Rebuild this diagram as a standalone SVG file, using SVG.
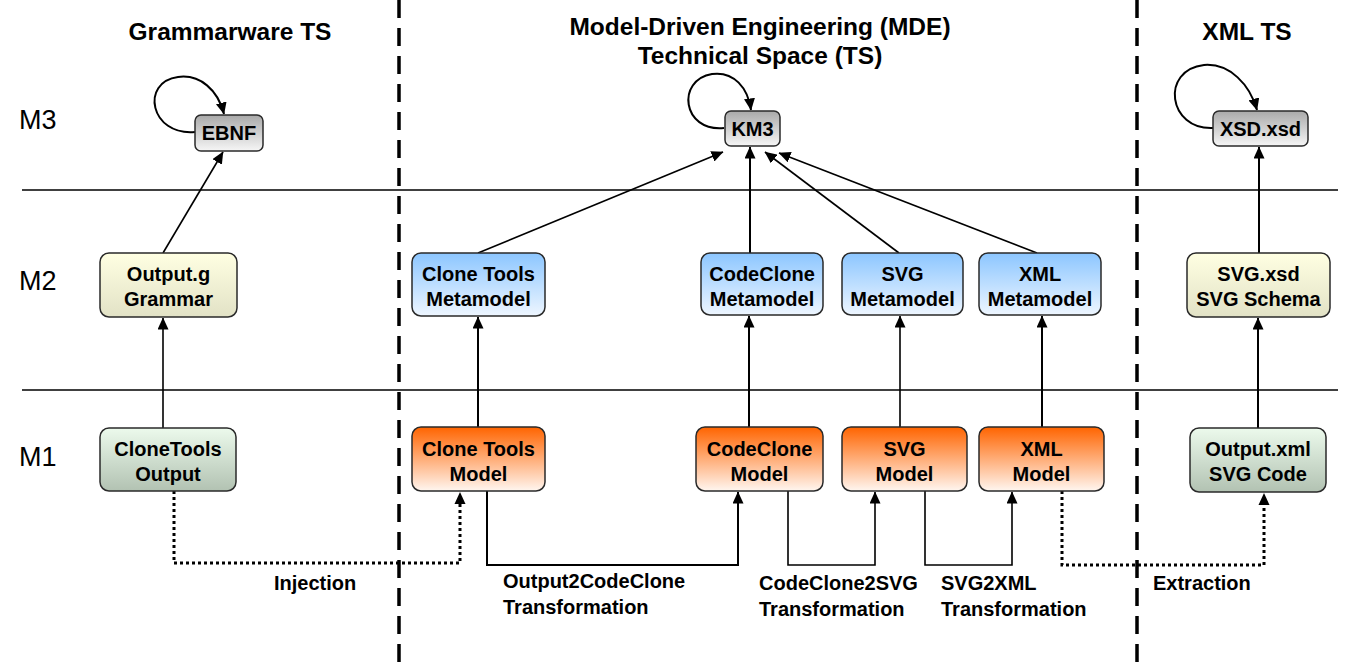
<svg xmlns="http://www.w3.org/2000/svg" width="1350" height="663" viewBox="0 0 1350 663">
<style>
.t{font-family:"Liberation Sans",Arial,sans-serif;font-weight:bold;fill:#000}
.title{font-size:24.5px}
.nt{font-size:20px;text-anchor:middle}
.lb{font-size:20px}
.lvl{font-family:"Liberation Sans",Arial,sans-serif;font-size:27px;fill:#000}
.box{stroke:#2a2a2a;stroke-width:1.5}
.c{fill:none;stroke:#000;stroke-width:1.6}
.c2{fill:none;stroke:#000;stroke-width:2}
.dot{fill:none;stroke:#000;stroke-width:3;stroke-dasharray:3 3}
.sep{stroke:#000;stroke-width:1.5}
.dash{stroke:#000;stroke-width:3.5;stroke-dasharray:18 10}
</style>
<defs>
<linearGradient id="gGray" x1="0" y1="0" x2="0" y2="1"><stop offset="0" stop-color="#a9a9a9"/><stop offset="1" stop-color="#f6f6f6"/></linearGradient>
<linearGradient id="gYel" x1="0" y1="0" x2="0" y2="1"><stop offset="0" stop-color="#ffffe2"/><stop offset="1" stop-color="#e2e2c6"/></linearGradient>
<linearGradient id="gBlue" x1="0" y1="0" x2="0" y2="1"><stop offset="0" stop-color="#8cc6ff"/><stop offset="1" stop-color="#eef6ff"/></linearGradient>
<linearGradient id="gOr" x1="0" y1="0" x2="0" y2="1"><stop offset="0" stop-color="#ff6400"/><stop offset="1" stop-color="#fff6f0"/></linearGradient>
<linearGradient id="gGr" x1="0" y1="0" x2="0" y2="1"><stop offset="0" stop-color="#ecfaec"/><stop offset="1" stop-color="#b2c2b2"/></linearGradient>
<marker id="ah" viewBox="0 0 12 11" refX="11.5" refY="5.5" markerWidth="12" markerHeight="11" markerUnits="userSpaceOnUse" orient="auto"><path d="M0,0 L12,5.5 L0,11 z" fill="#000"/></marker>
</defs>
<rect width="1350" height="663" fill="#fff"/>

<g id="titles">
<text class="t title" x="230" y="40" text-anchor="middle">Grammarware TS</text>
<text class="t title" x="760" y="35" text-anchor="middle">Model-Driven Engineering (MDE)</text>
<text class="t title" x="760" y="64" text-anchor="middle">Technical Space (TS)</text>
<text class="t title" x="1247" y="40" text-anchor="middle">XML TS</text>
</g>
<g id="levels">
<text class="lvl" x="19" y="129">M3</text>
<text class="lvl" x="19" y="290">M2</text>
<text class="lvl" x="19" y="466">M1</text>
</g>
<g id="separators">
<line class="sep" x1="22" y1="190" x2="1338" y2="190"/>
<line class="sep" x1="22" y1="390" x2="1338" y2="390"/>
<line class="dash" x1="399" y1="0" x2="399" y2="663"/>
<line class="dash" x1="1137" y1="0" x2="1137" y2="663"/>
</g>

<g id="connectors">
<path class="c2" d="M195,132 C150,136 140,82 178,77 C200,74 218,90 224,114" marker-end="url(#ah)"/>
<path class="c2" d="M724,128 C682,132 676,80 712,74 C734,71 748,88 751,110" marker-end="url(#ah)"/>
<path class="c2" d="M1213,128 C1168,130 1160,70 1204,65 C1230,63 1250,85 1257,110" marker-end="url(#ah)"/>
<line class="c" x1="163" y1="253" x2="223" y2="152" marker-end="url(#ah)"/>
<line class="c" x1="478" y1="253" x2="723" y2="152" marker-end="url(#ah)"/>
<line class="c2" x1="750" y1="253" x2="750" y2="147" marker-end="url(#ah)"/>
<line class="c" x1="899" y1="253" x2="765" y2="152" marker-end="url(#ah)"/>
<line class="c" x1="1037" y1="253" x2="779" y2="153" marker-end="url(#ah)"/>
<line class="c2" x1="1259" y1="253" x2="1259" y2="147" marker-end="url(#ah)"/>
<line class="c" x1="163" y1="428" x2="163" y2="318" marker-end="url(#ah)"/>
<line class="c2" x1="478" y1="427" x2="478" y2="317" marker-end="url(#ah)"/>
<line class="c2" x1="749" y1="427" x2="749" y2="316" marker-end="url(#ah)"/>
<line class="c" x1="900" y1="427" x2="900" y2="316" marker-end="url(#ah)"/>
<line class="c2" x1="1042" y1="427" x2="1042" y2="316" marker-end="url(#ah)"/>
<line class="c2" x1="1258" y1="428" x2="1258" y2="318" marker-end="url(#ah)"/>
<path class="c2" d="M487,491 V565 H738 V492" marker-end="url(#ah)"/>
<path class="c" d="M788,491 V565 H875 V492" marker-end="url(#ah)"/>
<path class="c" d="M925,491 V565 H1012 V492" marker-end="url(#ah)"/>
<path class="dot" d="M174,491 V563 H460 V502"/>
<path d="M454.5,504 L460,492 L465.5,504 z" fill="#000"/>
<path class="dot" d="M1062,491 V565 H1264 V503"/>
<path d="M1258.5,505 L1264,493 L1269.5,505 z" fill="#000"/>
</g>

<g id="labels">
<text class="t lb" x="274" y="590">Injection</text>
<text class="t lb" x="503" y="588">Output2CodeClone</text>
<text class="t lb" x="503" y="614">Transformation</text>
<text class="t lb" x="759" y="590">CodeClone2SVG</text>
<text class="t lb" x="759" y="616">Transformation</text>
<text class="t lb" x="941" y="590">SVG2XML</text>
<text class="t lb" x="941" y="616">Transformation</text>
<text class="t lb" x="1153" y="590">Extraction</text>
</g>

<g id="n-ebnf"><rect class="box" x="195" y="115" width="68" height="36" rx="6" fill="url(#gGray)"/><text class="t nt" x="229" y="140">EBNF</text></g>
<g id="n-km3"><rect class="box" x="725" y="111" width="55" height="35" rx="6" fill="url(#gGray)"/><text class="t nt" x="752.5" y="136">KM3</text></g>
<g id="n-xsd"><rect class="box" x="1213" y="111" width="95" height="35" rx="6" fill="url(#gGray)"/><text class="t nt" x="1260.5" y="136">XSD.xsd</text></g>

<g id="n-outputg"><rect class="box" x="100" y="253" width="137" height="64" rx="9" fill="url(#gYel)"/><text class="t nt" x="168.5" y="281">Output.g</text><text class="t nt" x="168.5" y="306">Grammar</text></g>
<g id="n-ctmm"><rect class="box" x="412" y="253" width="133" height="63" rx="9" fill="url(#gBlue)"/><text class="t nt" x="478.5" y="281">Clone Tools</text><text class="t nt" x="478.5" y="306">Metamodel</text></g>
<g id="n-ccmm"><rect class="box" x="701" y="253" width="122" height="62" rx="9" fill="url(#gBlue)"/><text class="t nt" x="762" y="281">CodeClone</text><text class="t nt" x="762" y="306">Metamodel</text></g>
<g id="n-svgmm"><rect class="box" x="842" y="253" width="121" height="62" rx="9" fill="url(#gBlue)"/><text class="t nt" x="902.5" y="281">SVG</text><text class="t nt" x="902.5" y="306">Metamodel</text></g>
<g id="n-xmlmm"><rect class="box" x="979" y="253" width="122" height="62" rx="9" fill="url(#gBlue)"/><text class="t nt" x="1040" y="281">XML</text><text class="t nt" x="1040" y="306">Metamodel</text></g>
<g id="n-svgxsd"><rect class="box" x="1187" y="253" width="143" height="64" rx="9" fill="url(#gYel)"/><text class="t nt" x="1258.5" y="281">SVG.xsd</text><text class="t nt" x="1258.5" y="306">SVG Schema</text></g>

<g id="n-ctout"><rect class="box" x="100" y="428" width="136" height="63" rx="9" fill="url(#gGr)"/><text class="t nt" x="168" y="456">CloneTools</text><text class="t nt" x="168" y="481">Output</text></g>
<g id="n-ctmodel"><rect class="box" x="412" y="427" width="133" height="64" rx="9" fill="url(#gOr)"/><text class="t nt" x="478.5" y="456">Clone Tools</text><text class="t nt" x="478.5" y="481">Model</text></g>
<g id="n-ccmodel"><rect class="box" x="696" y="427" width="127" height="64" rx="9" fill="url(#gOr)"/><text class="t nt" x="759.5" y="456">CodeClone</text><text class="t nt" x="759.5" y="481">Model</text></g>
<g id="n-svgmodel"><rect class="box" x="842" y="427" width="125" height="64" rx="9" fill="url(#gOr)"/><text class="t nt" x="904.5" y="456">SVG</text><text class="t nt" x="904.5" y="481">Model</text></g>
<g id="n-xmlmodel"><rect class="box" x="979" y="427" width="125" height="64" rx="9" fill="url(#gOr)"/><text class="t nt" x="1041.5" y="456">XML</text><text class="t nt" x="1041.5" y="481">Model</text></g>
<g id="n-outxml"><rect class="box" x="1190" y="428" width="136" height="64" rx="9" fill="url(#gGr)"/><text class="t nt" x="1258" y="456">Output.xml</text><text class="t nt" x="1258" y="481">SVG Code</text></g>
</svg>
